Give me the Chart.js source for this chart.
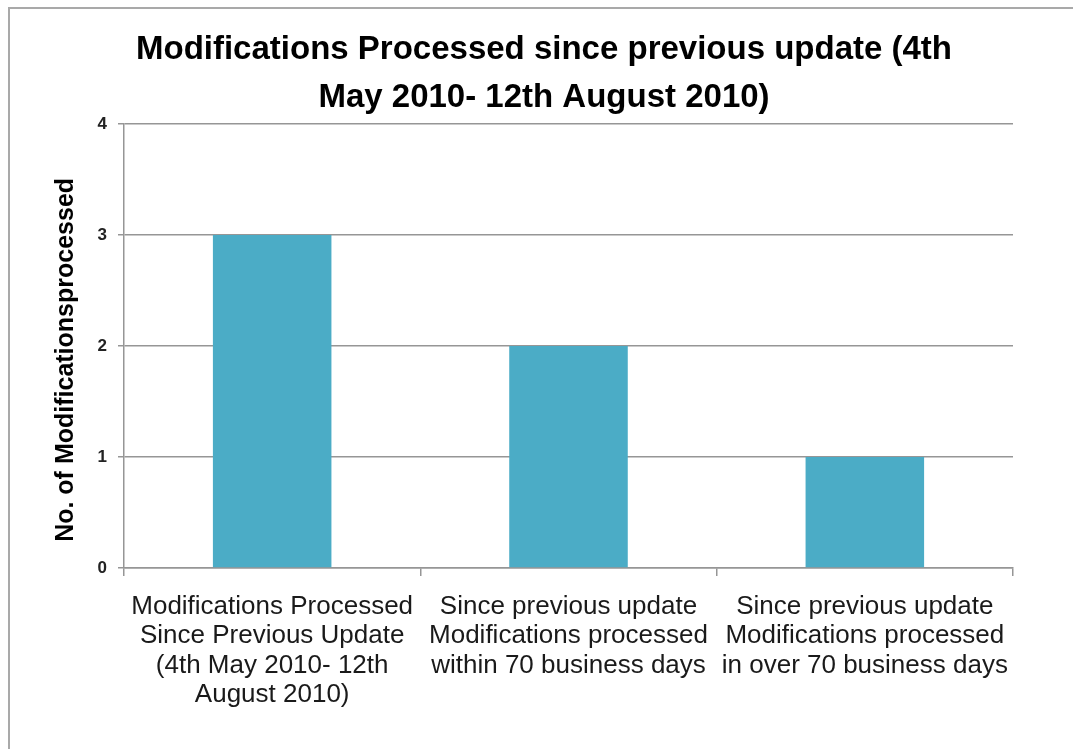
<!DOCTYPE html>
<html>
<head>
<meta charset="utf-8">
<script src="https://cdn.jsdelivr.net/npm/chart.js@4.4.1/dist/chart.umd.min.js"></script>
<style>
  html, body { margin: 0; padding: 0; background: #fff; }
  #wrap { position: relative; width: 1073px; height: 749px; overflow: hidden; }
  #frame { position: absolute; left: 8px; top: 7px; width: 1100px; height: 800px;
           border-left: 2px solid #a9a9a9; border-top: 2px solid #a9a9a9; box-sizing: border-box; }
  canvas { position: absolute; left: 0; top: 0; }
</style>
</head>
<body>
<div id="wrap">
  <div id="frame"></div>
  <canvas id="c" width="1073" height="749"></canvas>
</div>
<script>
const titleLines = ["Modifications Processed since previous update (4th", "May 2010- 12th August 2010)"];
const yAxisTitle = "No. of Modificationsprocessed";
const categories = [
  ["Modifications Processed", "Since Previous Update", "(4th May 2010- 12th", "August 2010)"],
  ["Since previous update", "Modifications processed", "within 70 business days"],
  ["Since previous update", "Modifications processed", "in over 70 business days"]
];
const values = [3, 2, 1];
const yTicks = [0, 1, 2, 3, 4];

const gridColor = '#969696';

// shift the title block a little to the right so it is centred as in the original
const titleShift = {
  id: 'titleShift',
  afterLayout(chart) {
    if (chart.titleBlock) { chart.titleBlock.left += 24; }
  }
};

new Chart(document.getElementById('c'), {
  type: 'bar',
  data: {
    labels: categories,
    datasets: [{
      data: values,
      backgroundColor: '#4BACC6',
      borderWidth: 0,
      categoryPercentage: 1.0,
      barPercentage: 0.4
    }]
  },
  plugins: [titleShift],
  options: {
    responsive: false,
    animation: false,
    layout: { padding: { left: 51, right: 60, top: 0, bottom: 0 } },
    plugins: {
      legend: { display: false },
      tooltip: { enabled: false },
      title: {
        display: true,
        text: titleLines,
        color: '#000',
        font: { family: 'Liberation Sans', size: 33, weight: 'bold', lineHeight: 1.455 },
        padding: { top: 26, bottom: 2 }
      }
    },
    scales: {
      y: {
        min: 0, max: 4,
        afterBuildTicks: (s) => { s.ticks = yTicks.map(v => ({ value: v })); },
        afterFit: (s) => { s.width = 124 - 51; },
        ticks: {
          color: '#222',
          font: { family: 'Liberation Sans', size: 17, weight: 'bold' },
          padding: 11
        },
        grid: { color: gridColor, lineWidth: 1.5, tickLength: 6, tickColor: gridColor },
        border: { color: gridColor, width: 1.5 },
        title: {
          display: true,
          text: yAxisTitle + '    ',
          color: '#000',
          font: { family: 'Liberation Sans', size: 25, weight: 'bold', lineHeight: 1.2 },
          padding: { top: 0, bottom: 0 }
        }
      },
      x: {
        afterFit: (s) => { s.height = 749 - 568; },
        ticks: {
          color: '#1a1a1a',
          font: { family: 'Liberation Sans', size: 26, lineHeight: 1.135 },
          padding: 16,
          maxRotation: 0,
          autoSkip: false
        },
        grid: { offset: true, drawOnChartArea: false, color: gridColor, lineWidth: 1.5, tickLength: 8 },
        border: { color: gridColor, width: 1.5 }
      }
    }
  }
});
</script>
</body>
</html>
